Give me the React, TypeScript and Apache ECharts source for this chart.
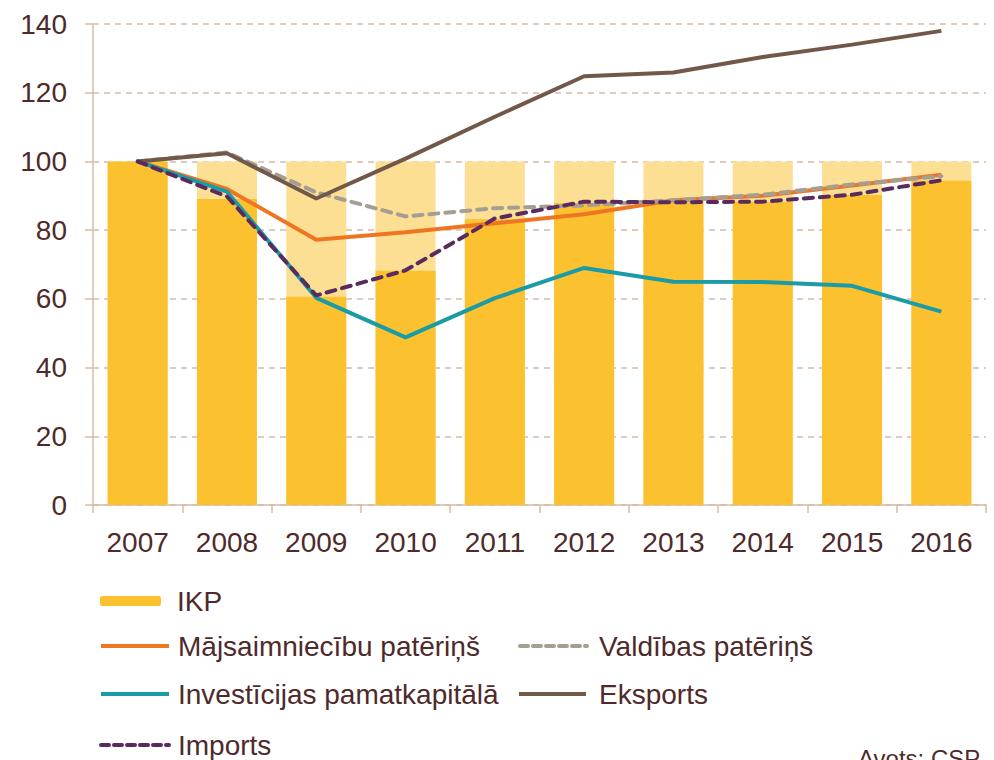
import React, { useEffect, useRef } from "react";
import * as echarts from "echarts";

const years = ["2007", "2008", "2009", "2010", "2011", "2012", "2013", "2014", "2015", "2016"];
const ikp = [100, 89.1, 60.6, 68.2, 83.2, 87.9, 88.4, 88.2, 90.2, 94.4];
const ikpBase = [100, 100, 100, 100, 100, 100, 100, 100, 100, 100];
const majsaimniecibu = [100, 92.0, 77.2, 79.4, 82.0, 84.6, 88.7, 90.0, 93.0, 96.1];
const valdibas = [100, 102.6, 91.0, 84.0, 86.4, 87.2, 88.7, 90.3, 93.3, 95.7];
const investicijas = [100, 91.2, 60.3, 48.8, 60.2, 69.0, 65.0, 64.9, 63.8, 56.3];
const eksports = [100, 102.4, 89.2, 100.8, 113.0, 124.8, 125.9, 130.4, 134.0, 138.0];
const imports = [100, 89.8, 61.0, 68.3, 83.4, 88.3, 88.1, 88.3, 90.3, 94.5];

const FONT = '"Liberation Sans", Arial, sans-serif';
const TEXT = "#4E2A2A";
const AXIS = "#D6BCA6";

export default function App() {
  const ref = useRef<HTMLDivElement>(null);
  useEffect(() => {
    if (!ref.current) return;
    const chart = echarts.init(ref.current, null, { renderer: "svg" });
    const legendText = (padLeft: number) => ({
      fontSize: 28,
      color: TEXT,
      fontFamily: FONT,
      padding: [0, 0, 0, padLeft],
    });
    const lineLegend = (
      name: string,
      left: number,
      top: number,
      width: number,
      pad: number,
      dashed: boolean
    ) => ({
      data: [name],
      left,
      top,
      padding: 0,
      itemWidth: width,
      itemHeight: 10,
      itemStyle: { opacity: 0 },
      lineStyle: { width: 4, type: dashed ? [8, 5] : "solid" },
      textStyle: legendText(pad),
    });
    const lineSeries = (name: string, data: number[], color: string, dashed: boolean) => ({
      name,
      type: "line",
      data,
      symbol: "none",
      lineStyle: {
        color,
        width: 4,
        type: dashed ? [9, 7] : "solid",
        cap: dashed ? "round" : "butt",
      },
      itemStyle: { color },
      z: 5,
    });
    chart.setOption({
      animation: false,
      textStyle: { fontFamily: FONT },
      grid: { left: 93, right: 8, top: 24, bottom: 255, containLabel: false },
      xAxis: {
        type: "category",
        data: years,
        axisLine: { lineStyle: { color: AXIS, width: 1.5 } },
        axisTick: { show: true, length: 8, lineStyle: { color: AXIS, width: 1.5 } },
        axisLabel: { color: TEXT, fontSize: 28, margin: 23, fontFamily: FONT },
      },
      yAxis: {
        type: "value",
        min: 0,
        max: 140,
        interval: 20,
        axisLine: { show: true, lineStyle: { color: AXIS, width: 1.5 } },
        axisTick: { show: true, length: 8, lineStyle: { color: AXIS, width: 1.5 } },
        axisLabel: { color: TEXT, fontSize: 28, margin: 26, fontFamily: FONT },
        splitLine: { show: true, lineStyle: { color: "#D8BBA6", width: 1.5, type: [6, 5] } },
      },
      legend: [
        {
          data: ["IKP"],
          left: 100,
          top: 587,
          padding: 0,
          itemWidth: 61,
          itemHeight: 10,
          textStyle: legendText(11),
        },
        lineLegend("Mājsaimniecību patēriņš", 99, 632, 68, 4, false),
        lineLegend("Valdības patēriņš", 518, 632, 67, 7, true),
        lineLegend("Investīcijas pamatkapitālā", 99, 680, 68, 4, false),
        lineLegend("Eksports", 517, 680, 67, 8, false),
        lineLegend("Imports", 99, 731, 68, 4, true),
      ],
      graphic: [
        {
          type: "text",
          left: 858,
          top: 746,
          style: { text: "Avots: CSP", fontSize: 24, fill: TEXT, fontFamily: FONT },
        },
      ],
      series: [
        {
          name: "IKP bāze",
          type: "bar",
          data: ikpBase,
          barWidth: 60,
          barGap: "-100%",
          itemStyle: { color: "#FDDF93" },
          z: 1,
        },
        {
          name: "IKP",
          type: "bar",
          data: ikp,
          barWidth: 60,
          barGap: "-100%",
          itemStyle: { color: "#FBC12E" },
          z: 2,
        },
        lineSeries("Mājsaimniecību patēriņš", majsaimniecibu, "#EE7623", false),
        lineSeries("Valdības patēriņš", valdibas, "#A59E92", true),
        lineSeries("Investīcijas pamatkapitālā", investicijas, "#1B9BA6", false),
        lineSeries("Eksports", eksports, "#725849", false),
        lineSeries("Imports", imports, "#5A2C5E", true),
      ],
    });
    return () => chart.dispose();
  }, []);
  return (
    <div
      ref={ref}
      style={{ position: "fixed", left: 0, top: 0, width: 994, height: 760, background: "#fff" }}
    />
  );
}
